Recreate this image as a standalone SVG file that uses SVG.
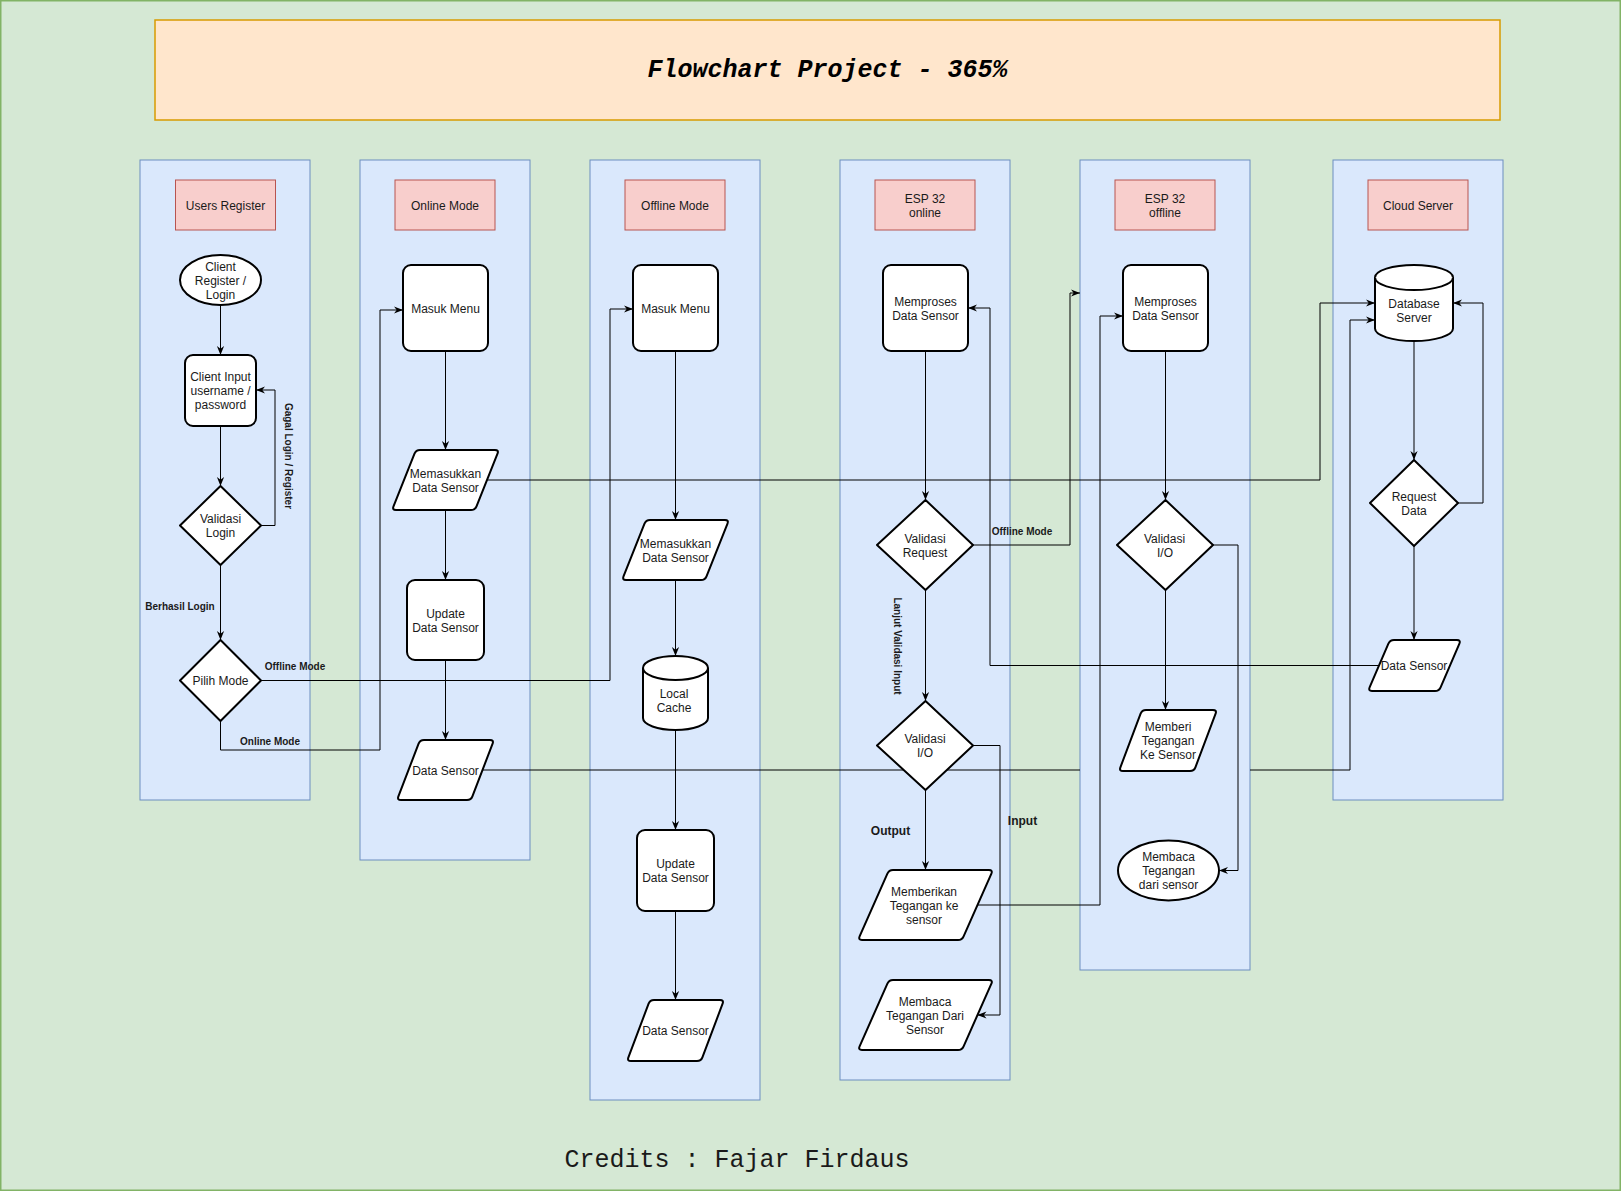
<svg xmlns="http://www.w3.org/2000/svg" width="1621" height="1191" viewBox="0 0 1621 1191">
<defs>
<style>
.bg{fill:#d5e8d4;stroke:#82b366;stroke-width:1.5}
.title{fill:#ffe6cc;stroke:#d79b00;stroke-width:1.5}
.lane{fill:#dae8fc;stroke:#6c8ebf;stroke-width:1}
.hdr{fill:#f8cecc;stroke:#b85450;stroke-width:1}
.node{fill:#fff;stroke:#000;stroke-width:2;stroke-linejoin:round}
.t{font-family:"Liberation Sans",Arial,sans-serif;font-size:12px;fill:#1a1a1a;text-anchor:middle}
.lbl{font-family:"Liberation Sans",Arial,sans-serif;font-size:10px;font-weight:bold;fill:#1a1a1a;text-anchor:middle}
.lbl12{font-family:"Liberation Sans",Arial,sans-serif;font-size:12px;font-weight:bold;fill:#1a1a1a;text-anchor:middle}
.edge{fill:none;stroke:#000;stroke-width:1}
</style>
<marker id="arr" viewBox="0 0 10 10" refX="10" refY="5" markerWidth="9" markerHeight="9" markerUnits="userSpaceOnUse" orient="auto">
<path d="M0,1 L10,5 L0,9 L3,5 Z" fill="#000"/>
</marker>
</defs>

<rect class="bg" x="0.75" y="0.75" width="1619.5" height="1189.5"/>
<g id="title">
<rect class="title" x="155" y="20" width="1345" height="100"/>
<text x="827.5" y="77" style="font-family:'Liberation Mono','Courier New',monospace;font-size:25px;font-weight:bold;font-style:italic;text-anchor:middle;fill:#000">Flowchart Project - 365%</text>
</g>

<g id="lanes">
<g id="lane-users">
<rect class="lane" x="140" y="160" width="170" height="640"/>
<rect class="hdr" x="175.5" y="180" width="100" height="50"/>
<text class="t" x="225.5" y="210">Users Register</text>
</g>
<g id="lane-online">
<rect class="lane" x="360" y="160" width="170" height="700"/>
<rect class="hdr" x="395" y="180" width="100" height="50"/>
<text class="t" x="445" y="210">Online Mode</text>
</g>
<g id="lane-offline">
<rect class="lane" x="590" y="160" width="170" height="940"/>
<rect class="hdr" x="625" y="180" width="100" height="50"/>
<text class="t" x="675" y="210">Offline Mode</text>
</g>
<g id="lane-esp-online">
<rect class="lane" x="840" y="160" width="170" height="920"/>
<rect class="hdr" x="875" y="180" width="100" height="50"/>
<text class="t" x="925" y="203">ESP 32</text>
<text class="t" x="925" y="217">online</text>
</g>
<g id="lane-esp-offline">
<rect class="lane" x="1080" y="160" width="170" height="810"/>
<rect class="hdr" x="1115" y="180" width="100" height="50"/>
<text class="t" x="1165" y="203">ESP 32</text>
<text class="t" x="1165" y="217">offline</text>
</g>
<g id="lane-cloud">
<rect class="lane" x="1333" y="160" width="170" height="640"/>
<rect class="hdr" x="1368" y="180" width="100" height="50"/>
<text class="t" x="1418" y="210">Cloud Server</text>
</g>
</g>

<g id="connectors">
<path class="edge" d="M220.5,305 L220.5,355" marker-end="url(#arr)"/>
<path class="edge" d="M220.5,426 L220.5,486" marker-end="url(#arr)"/>
<path class="edge" d="M261,525.5 L275,525.5 L275,390 L256,390" marker-end="url(#arr)"/>
<path class="edge" d="M220.5,565 L220.5,640" marker-end="url(#arr)"/>
<path class="edge" d="M261,680.5 L610,680.5 L610,309 L633,309" marker-end="url(#arr)"/>
<path class="edge" d="M220.5,721 L220.5,750 L380,750 L380,310 L403,310" marker-end="url(#arr)"/>
<path class="edge" d="M445.5,351 L445.5,450" marker-end="url(#arr)"/>
<path class="edge" d="M445.5,510 L445.5,580" marker-end="url(#arr)"/>
<path class="edge" d="M487.5,480 L1320,480 L1320,303 L1375,303" marker-end="url(#arr)"/>
<path class="edge" d="M445.5,660 L445.5,740" marker-end="url(#arr)"/>
<path class="edge" d="M482.5,770 L1080,770 M1250,770 L1350,770 L1350,320 L1375,320" marker-end="url(#arr)"/>
<path class="edge" d="M675.5,351 L675.5,520" marker-end="url(#arr)"/>
<path class="edge" d="M675.5,580 L675.5,656" marker-end="url(#arr)"/>
<path class="edge" d="M675.5,730 L675.5,830" marker-end="url(#arr)"/>
<path class="edge" d="M675.5,911 L675.5,1000" marker-end="url(#arr)"/>
<path class="edge" d="M925.5,351 L925.5,500" marker-end="url(#arr)"/>
<path class="edge" d="M973,545 L1070,545 L1070,293 L1080,293" marker-end="url(#arr)"/>
<path class="edge" d="M925.5,590 L925.5,701" marker-end="url(#arr)"/>
<path class="edge" d="M973,745.5 L1000,745.5 L1000,1015 L977.5,1015" marker-end="url(#arr)"/>
<path class="edge" d="M925.5,790 L925.5,870" marker-end="url(#arr)"/>
<path class="edge" d="M977.5,905 L1100,905 L1100,316 L1123,316" marker-end="url(#arr)"/>
<path class="edge" d="M1165.5,351 L1165.5,500" marker-end="url(#arr)"/>
<path class="edge" d="M1165.5,590 L1165.5,710" marker-end="url(#arr)"/>
<path class="edge" d="M1213,545 L1238,545 L1238,870.5 L1219,870.5" marker-end="url(#arr)"/>
<path class="edge" d="M1414,341 L1414,460" marker-end="url(#arr)"/>
<path class="edge" d="M1458,503 L1483,503 L1483,303 L1453,303" marker-end="url(#arr)"/>
<path class="edge" d="M1414,546 L1414,640" marker-end="url(#arr)"/>
<path class="edge" d="M1379,665.5 L990,665.5 L990,308 L968,308" marker-end="url(#arr)"/>
<text class="lbl" x="290" y="459" transform="rotate(90 289 455)">Gagal Login / Register</text>
<text class="lbl" x="180" y="609.5">Berhasil Login</text>
<text class="lbl" x="295" y="669.5">Offline Mode</text>
<text class="lbl" x="270" y="744.5">Online Mode</text>
<text class="lbl" x="1022" y="534.5">Offline Mode</text>
<text class="lbl" x="899" y="649" transform="rotate(90 898 645)">Lanjut Validasi Input</text>
<text class="lbl12" x="1022.5" y="825">Input</text>
<text class="lbl12" x="890.5" y="835">Output</text>
</g>

<g id="n-client">
<ellipse class="node" cx="220.5" cy="280" rx="40.5" ry="25"/>
<text class="t" x="220.5" y="271">Client</text>
<text class="t" x="220.5" y="285">Register /</text>
<text class="t" x="220.5" y="299">Login</text>
</g>
<g id="n-input">
<rect class="node" x="185" y="355" width="71" height="71" rx="8"/>
<text class="t" x="220.5" y="381">Client Input</text>
<text class="t" x="220.5" y="395">username /</text>
<text class="t" x="220.5" y="409">password</text>
</g>
<g id="n-validasi-login">
<polygon class="node" points="220.5,486 261,525.5 220.5,565 180,525.5"/>
<text class="t" x="220.5" y="523">Validasi</text>
<text class="t" x="220.5" y="537">Login</text>
</g>
<g id="n-pilih-mode">
<polygon class="node" points="220.5,640 261,680.5 220.5,721 180,680.5"/>
<text class="t" x="220.5" y="685">Pilih Mode</text>
</g>

<g id="n-menu-online">
<rect class="node" x="403" y="265" width="85" height="86" rx="8"/>
<text class="t" x="445.5" y="313">Masuk Menu</text>
</g>
<g id="n-memasukkan-online">
<path class="node" d="M420,450 L495,450 Q499,450 497.5,453.7 L476.5,506.3 Q475,510 471,510 L396,510 Q392,510 393.5,506.3 L414.5,453.7 Q416,450 420,450 Z"/>
<text class="t" x="445.5" y="478">Memasukkan</text>
<text class="t" x="445.5" y="492">Data Sensor</text>
</g>
<g id="n-update-online">
<rect class="node" x="407" y="580" width="77" height="80" rx="8"/>
<text class="t" x="445.5" y="618">Update</text>
<text class="t" x="445.5" y="632">Data Sensor</text>
</g>
<g id="n-datasensor-online">
<path class="node" d="M424,740 L490,740 Q494,740 492.6,743.7 L472.4,796.3 Q471,800 467,800 L401,800 Q397,800 398.4,796.3 L418.6,743.7 Q420,740 424,740 Z"/>
<text class="t" x="445.5" y="775">Data Sensor</text>
</g>

<g id="n-menu-offline">
<rect class="node" x="633" y="265" width="85" height="86" rx="8"/>
<text class="t" x="675.5" y="313">Masuk Menu</text>
</g>
<g id="n-memasukkan-offline">
<path class="node" d="M650,520 L725,520 Q729,520 727.5,523.7 L706.5,576.3 Q705,580 701,580 L626,580 Q622,580 623.5,576.3 L644.5,523.7 Q646,520 650,520 Z"/>
<text class="t" x="675.5" y="548">Memasukkan</text>
<text class="t" x="675.5" y="562">Data Sensor</text>
</g>
<g id="n-local-cache">
<path class="node" d="M643,668 A32.5,12 0 0 1 708,668 L708,718 A32.5,12 0 0 1 643,718 Z"/>
<path class="node" d="M643,668 A32.5,12 0 0 0 708,668" fill="none"/>
<text class="t" x="674" y="698">Local</text>
<text class="t" x="674" y="712">Cache</text>
</g>
<g id="n-update-offline">
<rect class="node" x="637" y="830" width="77" height="81" rx="8"/>
<text class="t" x="675.5" y="868">Update</text>
<text class="t" x="675.5" y="882">Data Sensor</text>
</g>
<g id="n-datasensor-offline">
<path class="node" d="M654,1000 L720,1000 Q724,1000 722.6,1003.7 L702.4,1057.3 Q701,1061 697,1061 L631,1061 Q627,1061 628.4,1057.3 L648.6,1003.7 Q650,1000 654,1000 Z"/>
<text class="t" x="675.5" y="1035">Data Sensor</text>
</g>

<g id="n-proses-online">
<rect class="node" x="883" y="265" width="85" height="86" rx="8"/>
<text class="t" x="925.5" y="306">Memproses</text>
<text class="t" x="925.5" y="320">Data Sensor</text>
</g>
<g id="n-validasi-request">
<polygon class="node" points="925.5,500 973,545 925.5,590 877,545"/>
<text class="t" x="925" y="543">Validasi</text>
<text class="t" x="925" y="557">Request</text>
</g>
<g id="n-validasi-io-online">
<polygon class="node" points="925.5,701 973,745.5 925.5,790 877,745.5"/>
<text class="t" x="925" y="743">Validasi</text>
<text class="t" x="925" y="757">I/O</text>
</g>
<g id="n-memberikan">
<path class="node" d="M893,870 L989,870 Q993,870 991.4,873.7 L963.6,936.3 Q962,940 958,940 L862,940 Q858,940 859.6,936.3 L887.4,873.7 Q889,870 893,870 Z"/>
<text class="t" x="924" y="896">Memberikan</text>
<text class="t" x="924" y="910">Tegangan ke</text>
<text class="t" x="924" y="924">sensor</text>
</g>
<g id="n-membaca-online">
<path class="node" d="M893,980 L989,980 Q993,980 991.4,983.7 L963.6,1046.3 Q962,1050 958,1050 L862,1050 Q858,1050 859.6,1046.3 L887.4,983.7 Q889,980 893,980 Z"/>
<text class="t" x="925" y="1006">Membaca</text>
<text class="t" x="925" y="1020">Tegangan Dari</text>
<text class="t" x="925" y="1034">Sensor</text>
</g>

<g id="n-proses-offline">
<rect class="node" x="1123" y="265" width="85" height="86" rx="8"/>
<text class="t" x="1165.5" y="306">Memproses</text>
<text class="t" x="1165.5" y="320">Data Sensor</text>
</g>
<g id="n-validasi-io-offline">
<polygon class="node" points="1165.5,500 1213,545 1165.5,590 1117,545"/>
<text class="t" x="1164.5" y="543">Validasi</text>
<text class="t" x="1165" y="557">I/O</text>
</g>
<g id="n-memberi-offline">
<path class="node" d="M1146,710 L1213,710 Q1217,710 1215.6,713.7 L1195.4,767.3 Q1194,771 1190,771 L1123,771 Q1119,771 1120.4,767.3 L1140.6,713.7 Q1142,710 1146,710 Z"/>
<text class="t" x="1168" y="731">Memberi</text>
<text class="t" x="1168" y="745">Tegangan</text>
<text class="t" x="1168" y="759">Ke Sensor</text>
</g>
<g id="n-membaca-offline">
<ellipse class="node" cx="1168.5" cy="870.5" rx="50.5" ry="30"/>
<text class="t" x="1168.5" y="861">Membaca</text>
<text class="t" x="1168.5" y="875">Tegangan</text>
<text class="t" x="1168.5" y="889">dari sensor</text>
</g>

<g id="n-database">
<path class="node" d="M1375,277.5 A39,12.5 0 0 1 1453,277.5 L1453,328.5 A39,12.5 0 0 1 1375,328.5 Z"/>
<path class="node" d="M1375,277.5 A39,12.5 0 0 0 1453,277.5" fill="none"/>
<text class="t" x="1414" y="308">Database</text>
<text class="t" x="1414" y="322">Server</text>
</g>
<g id="n-request-data">
<polygon class="node" points="1414,460 1458,503 1414,546 1370,503"/>
<text class="t" x="1414" y="501">Request</text>
<text class="t" x="1414" y="515">Data</text>
</g>
<g id="n-datasensor-cloud">
<path class="node" d="M1394,640 L1457,640 Q1461,640 1459.4,643.7 L1440.6,687.3 Q1439,691 1435,691 L1372,691 Q1368,691 1369.6,687.3 L1388.4,643.7 Q1390,640 1394,640 Z"/>
<text class="t" x="1414" y="670">Data Sensor</text>
</g>

<text x="737" y="1167" style="font-family:'Liberation Mono','Courier New',monospace;font-size:25px;text-anchor:middle;fill:#1a1a1a">Credits : Fajar Firdaus</text>
</svg>
